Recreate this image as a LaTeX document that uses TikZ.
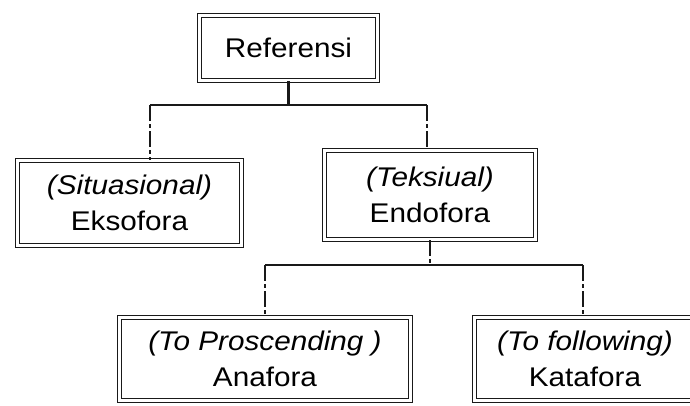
\documentclass[tikz,border=0pt]{standalone}
\usepackage{fontspec}
\setmainfont[FakeStretch=1.1]{Liberation Sans}
\usetikzlibrary{positioning}
\definecolor{tinta}{RGB}{25,25,25}
\tikzstyle{garis} = [line width=2.4pt, color=tinta]
\tikzstyle{tetes} = [line width=2.4pt, dash pattern=on 16pt off 3pt on 4pt off 3pt, color=tinta]
\tikzstyle{kotak} = [rectangle, draw=tinta, double=white, double distance=2.2pt, line width=1.4pt, align=center, inner sep=0pt, font=\fontsize{27}{36}\selectfont]

\begin{document}
\begin{tikzpicture}[x=1pt, y=-1pt]
\useasboundingbox (0,0) rectangle (690,405);
% Boxes
\node (ref) [kotak, minimum width=178pt, minimum height=65pt] at (288.5,48) {Referensi};
\node (eks) [kotak, minimum width=224pt, minimum height=85pt] at (129.5,203) {\textit{(Situasional)}\\Eksofora};
\node (endo) [kotak, minimum width=211pt, minimum height=89pt] at (430,195) {\textit{(Teksiual)}\\Endofora};
\node (ana) [kotak, minimum width=291pt, minimum height=83pt] at (265,359) {\textit{(To Proscending )}\\Anafora};
\node (kata) [kotak, minimum width=221pt, minimum height=83pt] at (585,359) {\textit{(To following)}\\Katafora};

% Branch points
\coordinate (c1) at (288.5,105);
\coordinate (c1l) at (150,105);
\coordinate (c1r) at (427,105);
\coordinate (c2) at (430,265);
\coordinate (c2l) at (265,265);
\coordinate (c2r) at (583,265);

% Connections
\draw[garis] (ref) -- (c1);
\draw[garis] (c1l) -- (c1r);
\draw[tetes] (c1l) -- (c1l |- eks.north);
\draw[tetes] (c1r) -- (c1r |- endo.north);
\draw[tetes] (endo) -- (c2);
\draw[garis] (c2l) -- (c2r);
\draw[tetes] (c2l) -- (c2l |- ana.north);
\draw[tetes] (c2r) -- (c2r |- kata.north);
\end{tikzpicture}
\end{document}
